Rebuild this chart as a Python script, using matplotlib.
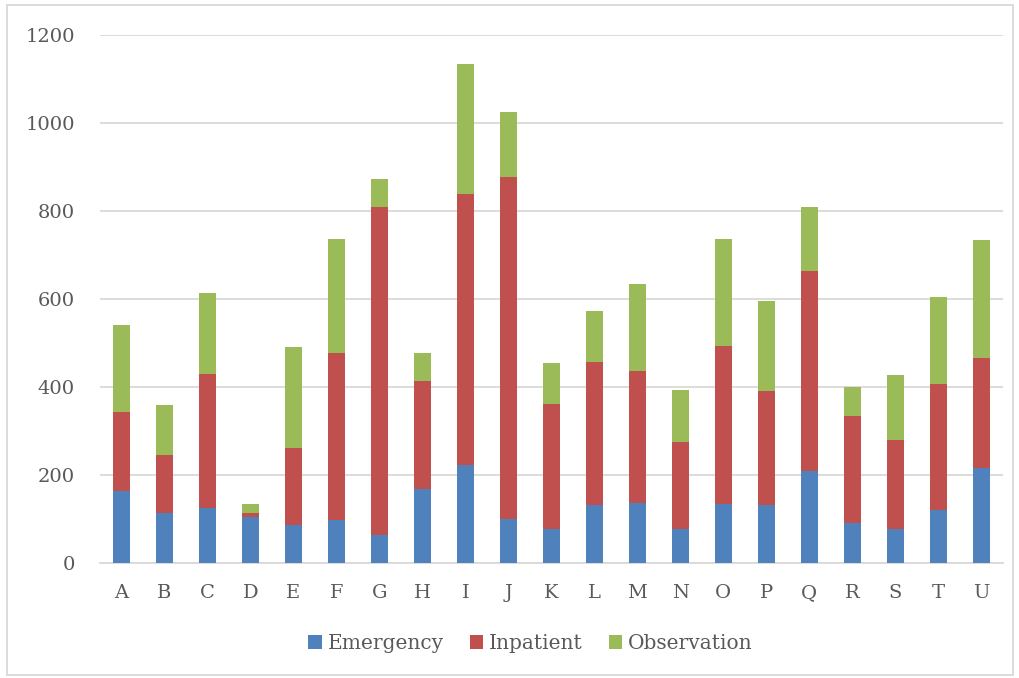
import numpy as np
import matplotlib.pyplot as plt
from matplotlib.patches import Rectangle

categories = list("ABCDEFGHIJKLMNOPQRSTU")
emergency = [164, 113, 125, 104, 86, 98, 64, 168, 223, 100, 77, 132, 136, 77, 134, 132, 209, 91, 77, 120, 216]
inpatient_top = [343, 245, 430, 113, 261, 477, 809, 414, 839, 877, 361, 457, 436, 275, 493, 391, 664, 334, 280, 407, 466]
total = [541, 359, 614, 134, 491, 736, 873, 478, 1134, 1025, 455, 573, 634, 393, 736, 595, 809, 400, 427, 605, 734]

inpatient = [t - e for t, e in zip(inpatient_top, emergency)]
observation = [t - i for t, i in zip(total, inpatient_top)]

plt.rcParams['font.family'] = ['DejaVu Serif']

fig = plt.figure(figsize=(10.2, 6.78), dpi=100)
ax = fig.add_axes([0.098, 0.1696, 0.885, 0.7788])

x = np.arange(len(categories))
w = 0.4
ax.bar(x, emergency, w, color='#4f81bd', label='Emergency', zorder=3)
ax.bar(x, inpatient, w, bottom=emergency, color='#c0504d', label='Inpatient', zorder=3)
ax.bar(x, observation, w, bottom=inpatient_top, color='#9bbb59', label='Observation', zorder=3)

ax.set_xlim(-0.5, 20.5)
ax.set_ylim(0, 1200)
ax.set_yticks(range(0, 1201, 200))
ax.set_xticks(x)
ax.set_xticklabels(categories)
ax.yaxis.grid(True, color='#d9d9d9', linewidth=1.3, zorder=0)
for s in ['top', 'right', 'left']:
    ax.spines[s].set_visible(False)
ax.spines['bottom'].set_color('#d9d9d9')
ax.spines['bottom'].set_linewidth(1.3)
ax.tick_params(axis='both', length=0, colors='#595959', labelsize=14)
ax.tick_params(axis='y', pad=18)
ax.tick_params(axis='x', pad=15)

ax.legend(loc='upper center', bbox_to_anchor=(0.477, -0.1), ncol=3, frameon=False,
          fontsize=14.5, handlelength=0.65, handleheight=0.65, handletextpad=0.3,
          columnspacing=1.3, labelcolor='#595959')

fig.patches.append(Rectangle((0.007, 0.004), 0.986, 0.988, transform=fig.transFigure,
                             fill=False, edgecolor='#d9d9d9', linewidth=1.3))

fig.savefig('out.png', dpi=100)
